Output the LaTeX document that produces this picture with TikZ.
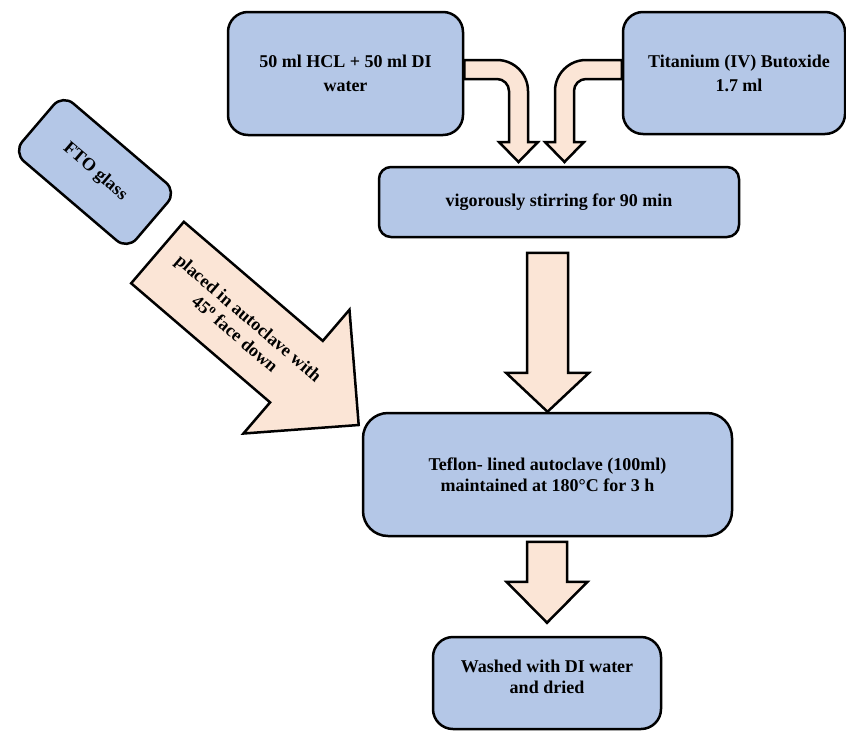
\documentclass[tikz,border=0pt]{standalone}
\usepackage{fontspec}
\setmainfont{Liberation Serif}
\definecolor{boxblue}{HTML}{B4C7E7}
\definecolor{peach}{HTML}{FBE5D6}
\begin{document}
\begin{tikzpicture}[x=1pt,y=-1pt,
  box/.style={draw=black, line width=2.5pt, fill=boxblue, align=center, inner sep=0pt,
    font=\bfseries\fontsize{18}{21}\selectfont},
  blockarrow/.style={draw=black, line width=2.5pt, fill=peach, line join=miter},
  lbl/.style={align=center, inner sep=0pt, font=\bfseries\fontsize{18}{21}\selectfont}]
\useasboundingbox (0,0) rectangle (846,731);

% boxes
\node[box, rounded corners=20pt, minimum width=235pt, minimum height=123pt,
  font=\bfseries\fontsize{18}{24}\selectfont] (hcl) at (345.5,73.5) {50 ml HCL + 50 ml DI\\water};
\node[box, rounded corners=20pt, minimum width=222pt, minimum height=122pt,
  font=\bfseries\fontsize{18}{24}\selectfont] (ti) at (734,73) {};
\node[lbl, font=\bfseries\fontsize{18}{24}\selectfont] (titxt) at (739,73) {Titanium (IV) Butoxide\\1.7 ml};
\node[box, rounded corners=12pt, minimum width=360pt, minimum height=70pt] (stir) at (559,202) {vigorously stirring for 90 min};
\node[box, rounded corners=25pt, minimum width=369pt, minimum height=123pt] (tef) at (547.5,474.5) {Teflon- lined autoclave (100ml)\\maintained at 180°C for 3 h};
\node[box, rounded corners=20pt, minimum width=228pt, minimum height=92pt] (wash) at (547,683) {};
\node[lbl] (washtxt) at (547,677) {Washed with DI water\\and dried};
\node[box, rounded corners=14pt, minimum width=150pt, minimum height=76pt, rotate=-40.5] (fto) at (95,172) {FTO glass};

% bent arrows
\path[blockarrow] (hcl.east |- 0,60) -- (497,60) .. controls (514.1,60) and (528,73.9) .. (528,91)
  -- (528,142) -- (538,142) -- (518.5,162) -- (499,142) -- (509,142) -- (509,91)
  .. controls (509,84.4) and (503.6,79) .. (497,79) -- (hcl.east |- 0,79) -- cycle;
\path[blockarrow] (ti.west |- 0,60) -- (586,60) .. controls (568.9,60) and (555,73.9) .. (555,91)
  -- (555,142) -- (545,142) -- (564.5,162) -- (584,142) -- (574,142) -- (574,91)
  .. controls (574,84.4) and (579.4,79) .. (586,79) -- (ti.west |- 0,79) -- cycle;

% straight block arrows (tip at origin of each scope)
\begin{scope}[shift={(tef.north)}]
  \path[blockarrow] (-20.5,-159) -- (20.5,-159) -- (20.5,-39) -- (41.5,-39) -- (0,0)
    -- (-41.5,-39) -- (-20.5,-39) -- cycle;
\end{scope}
\begin{scope}[shift={([yshift=13pt]wash.north)}]
  \path[blockarrow] (-20,-81) -- (20,-81) -- (20,-41) -- (40.5,-41) -- (0,0)
    -- (-40.5,-41) -- (-20,-41) -- cycle;
\end{scope}
\begin{scope}[shift={(358.7,425)}, rotate=-40.6]
  \path[blockarrow] (-265,-40.5) -- (-82,-40.5) -- (-82,-81.5) -- (0,0)
    -- (-82,81.5) -- (-82,40.5) -- (-265,40.5) -- cycle;
\end{scope}
\node[lbl, rotate=-40.6] (diagtxt) at (242,326) {placed in autoclave with\\45\textsuperscript{o} face down};
\end{tikzpicture}
\end{document}
